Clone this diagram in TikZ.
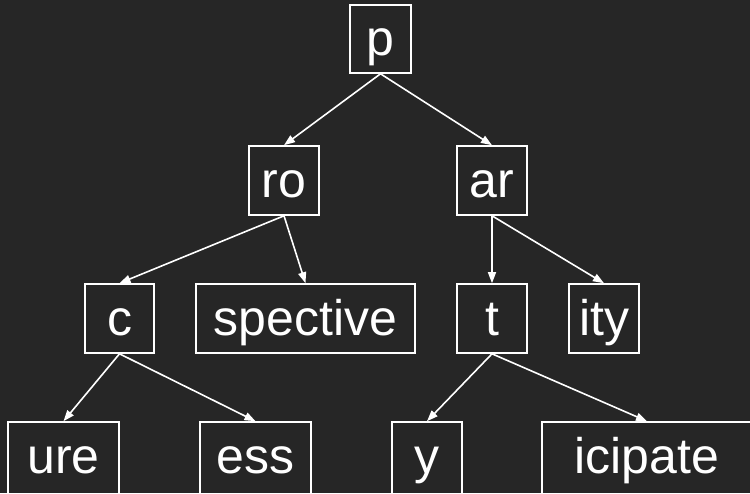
\documentclass[tikz,border=0pt]{standalone}
\usepackage{fontspec}
\setmainfont{Liberation Sans}
\usetikzlibrary{arrows.meta}
\definecolor{bg}{HTML}{262626}
\begin{document}
\begin{tikzpicture}[x=1pt,y=-1pt,
  word/.style={draw=white, line width=1.6pt, text=white, inner sep=0pt,
    minimum height=69pt, text height=33pt, text depth=0pt,
    font=\fontsize{50}{60}\selectfont},
  leaf/.style={word, minimum height=74pt, text height=28pt},
  link/.style={draw=white, line width=1.6pt, -{Triangle[length=11pt,width=8pt]}}]
  \fill[bg] (0,0) rectangle (750,493);
  \useasboundingbox (0,0) rectangle (750,493);
  % first level
  \node[word, minimum width=61pt, minimum height=68pt] (p) at (380.5,39) {p};
  % second level
  \node[word, minimum width=70pt] (ro) at (284,180.5) {ro};
  \node[word, minimum width=70pt] (ar) at (492,180.5) {ar};
  % third level
  \node[word, minimum width=69pt] (c) at (119.5,318.5) {c};
  \node[word, minimum width=219pt] (spective) at (305.5,318.5) {spective};
  \node[word, minimum width=70pt] (t) at (492,318.5) {t};
  \node[word, minimum width=70pt] (ity) at (604,318.5) {ity};
  % fourth level (runs past the lower edge)
  \node[leaf, minimum width=111pt] (ure) at (63.5,459) {ure};
  \node[leaf, minimum width=111pt] (ess) at (255.5,459) {ess};
  \node[leaf, minimum width=70pt] (y) at (427,459) {y};
  \node[leaf, minimum width=210pt] (icipate) at (647,459) {icipate};
  % connectors
  \draw[link] (p.south) -- (ro.north);
  \draw[link] (p.south) -- (ar.north);
  \draw[link] (ro.south) -- (c.north);
  \draw[link] (ro.south) -- (spective.north);
  \draw[link] (ar.south) -- (t.north);
  \draw[link] (ar.south) -- (ity.north);
  \draw[link] (c.south) -- (ure.north);
  \draw[link] (c.south) -- (ess.north);
  \draw[link] (t.south) -- (y.north);
  \draw[link] (t.south) -- (icipate.north);
\end{tikzpicture}
\end{document}
